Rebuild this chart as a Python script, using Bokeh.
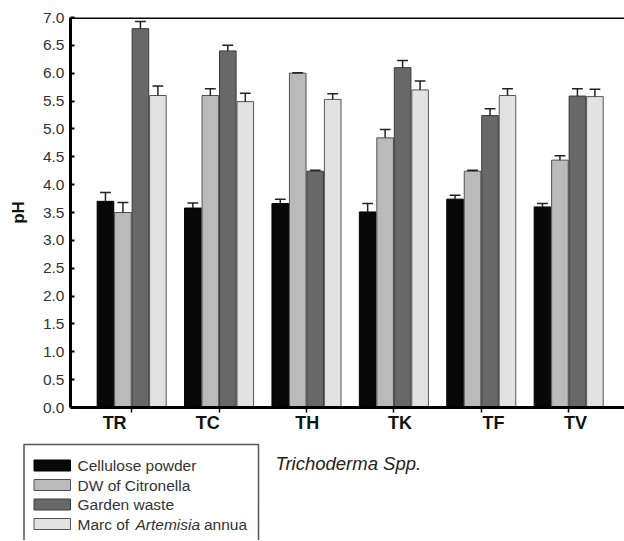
import numpy as np
from bokeh.plotting import figure
from bokeh.layouts import column
from bokeh.models import (Range1d, Span, Label, FixedTicker, NumeralTickFormatter, LinearAxis,
                          CustomJSTickFormatter)
from bokeh.embed import file_html
from bokeh.resources import INLINE

# ---- data ----
species = ["TR", "TC", "TH", "TK", "TF", "TV"]
series = ["Cellulose powder", "DW of Citronella", "Garden waste", "Marc of Artemisia annua"]
cellulose = [3.70, 3.58, 3.66, 3.51, 3.74, 3.60]
cellulose_err = [0.16, 0.09, 0.08, 0.15, 0.07, 0.06]
citronella = [3.50, 5.60, 6.00, 4.84, 4.24, 4.44]
citronella_err = [0.18, 0.12, 0.01, 0.15, 0.02, 0.08]
garden = [6.80, 6.40, 4.24, 6.10, 5.24, 5.59]
garden_err = [0.13, 0.10, 0.02, 0.13, 0.12, 0.13]
artemisia = [5.60, 5.49, 5.53, 5.70, 5.60, 5.58]
artemisia_err = [0.17, 0.15, 0.10, 0.16, 0.12, 0.13]
y_ticks = [0.0, 0.5, 1.0, 1.5, 2.0, 2.5, 3.0, 3.5, 4.0, 4.5, 5.0, 5.5, 6.0, 6.5, 7.0]
x_title = "Trichoderma Spp."
y_title = "pH"

values = [cellulose, citronella, garden, artemisia]
errors = [cellulose_err, citronella_err, garden_err, artemisia_err]
colors = ["#080808", "#bababa", "#686868", "#e2e2e2"]
outlines = ["#000000", "#505050", "#3a3a3a", "#555555"]
offsets = [-0.3, -0.1, 0.1, 0.3]
# the original's category labels sit slightly off their tick marks (category units)
label_shift = [-0.195, -0.13, 0.01, 0.07, 0.14, 0.077]

FONT = "Liberation Sans"
TXT = "#333333"

# layout (page pixels)
W, H = 624, 540
FL, FT, FB = 70, 17, 407
H1 = 437                        # height of the chart part
X0 = 0.30
PXU = 87.4                      # pixels per category
X1 = X0 + (W - FL) / PXU

p = figure(width=W, height=H1, output_backend="svg", toolbar_location=None,
           x_range=Range1d(X0, X1), y_range=Range1d(0, 7),
           min_border_left=FL, min_border_right=0, min_border_top=FT, min_border_bottom=H1 - FB)
p.frame_align = False
p.outline_line_color = None
p.grid.visible = False

base = np.arange(1, len(species) + 1)
for vals, errs, col, oc, off in zip(values, errors, colors, outlines, offsets):
    xs = base + off
    v = np.array(vals)
    e = np.array(errs)
    p.vbar(x=xs, top=v, bottom=0, width=0.19, fill_color=col, line_color=oc, line_width=1)
    p.segment(x0=xs, y0=v, x1=xs, y1=v + e, line_color="#222222", line_width=1.5)
    p.segment(x0=xs - 0.062, y0=v + e, x1=xs + 0.062, y1=v + e, line_color="#222222", line_width=1.5)

p.add_layout(Span(location=7.0, dimension="width", line_color="#000000", line_width=3))

# y axis
ya = p.yaxis[0]
ya.ticker = FixedTicker(ticks=y_ticks)
ya.formatter = NumeralTickFormatter(format="0.0")
ya.axis_label = y_title
ya.axis_label_text_font = FONT
ya.axis_label_text_font_style = "bold"
ya.axis_label_text_font_size = "17px"
ya.axis_label_text_color = "#111111"
ya.axis_label_standoff = 12
ya.major_label_text_font = FONT
ya.major_label_text_font_size = "15.5px"
ya.major_label_text_color = TXT
ya.major_label_standoff = 6
ya.major_tick_in = 4
ya.major_tick_out = 0
ya.major_tick_line_width = 2
ya.minor_tick_line_color = None
ya.axis_line_width = 3

# x axis: line and tick marks at the categories
xa = p.xaxis[0]
xa.ticker = FixedTicker(ticks=list(base))
xa.formatter = CustomJSTickFormatter(code="return ''")
xa.major_label_text_font_size = "0px"
xa.major_label_standoff = 0
xa.major_tick_in = 0
xa.major_tick_out = 5
xa.major_tick_line_width = 1.5
xa.minor_tick_line_color = None
xa.axis_line_width = 3

# category labels, placed as in the original
xl = LinearAxis(ticker=FixedTicker(ticks=list(base + np.array(label_shift))),
                formatter=CustomJSTickFormatter(args=dict(labels=species), code="return labels[index]"))
xl.axis_line_color = None
xl.major_tick_line_color = None
xl.minor_tick_line_color = None
xl.major_tick_in = 0
xl.major_tick_out = 0
xl.major_label_standoff = 0
xl.major_label_text_font = FONT
xl.major_label_text_font_style = "bold"
xl.major_label_text_font_size = "18px"
xl.major_label_text_color = "#111111"
p.add_layout(xl, "below")

# ---- lower panel: legend and x title, in page pixel coordinates ----
q = figure(width=W, height=H - H1, output_backend="svg", toolbar_location=None,
           x_range=Range1d(0, W), y_range=Range1d(H, H1),
           x_axis_location=None, y_axis_location=None,
           min_border=0, min_border_left=0, min_border_right=0, min_border_top=0, min_border_bottom=0)
q.frame_align = False
q.outline_line_color = None
q.grid.visible = False

q.quad(left=23.5, right=258, top=444, bottom=600, fill_color=None, line_color="#555555", line_width=1.5)

row_y = [465, 484.5, 504, 523.5]
for name, col, oc, ry in zip(series, colors, outlines, row_y):
    q.quad(left=33.5, right=70, top=ry - 5.5, bottom=ry + 5.5, fill_color=col, line_color=oc, line_width=1)
    common = dict(y=ry, text_baseline="middle", text_font=FONT, text_font_size="15.5px", text_color=TXT)
    if "Artemisia" in name:
        a, b, c = name.partition("Artemisia")
        q.add_layout(Label(x=77, text=a.strip(), **common))
        q.add_layout(Label(x=135, text=b, text_font_style="italic", **common))
        q.add_layout(Label(x=203.5, text=c.strip(), **common))
    else:
        q.add_layout(Label(x=77, text=name, **common))

q.add_layout(Label(x=275, y=463, text=x_title, text_baseline="middle", text_font=FONT,
                   text_font_style="italic", text_font_size="18.5px", text_color="#222222"))

layout = column(p, q, spacing=0)
open("out.html", "w").write(file_html(layout, INLINE))
